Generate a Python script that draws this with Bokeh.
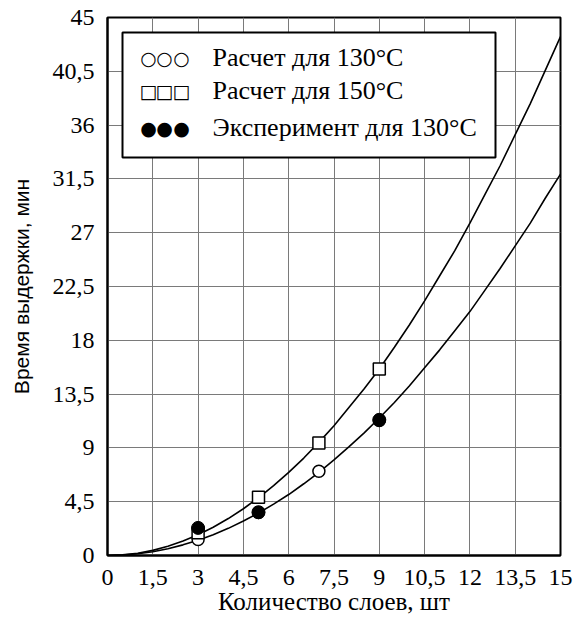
from bokeh.plotting import figure
from bokeh.models import Range1d, FixedTicker, Label, BoxAnnotation
from bokeh.embed import file_html
from bokeh.resources import INLINE

# ---- data ----
curve_x = [0, 0.5, 1, 1.5, 2, 2.5, 3, 3.5, 4, 4.5, 5, 5.5, 6, 6.5, 7, 7.5, 8, 8.5, 9, 9.5,
           10, 10.5, 11, 11.5, 12, 12.5, 13, 13.5, 14, 14.5, 15]
curve_130 = [0, 0.04, 0.14, 0.32, 0.57, 0.89, 1.28, 1.74, 2.27, 2.88, 3.55, 4.30, 5.1, 6.0,
             6.96, 7.99, 9.1, 10.26, 11.5, 12.8, 14.2, 15.7, 17.2, 18.8, 20.4, 22.2, 24.0,
             25.9, 27.8, 29.9, 31.9]
curve_150 = [0, 0.05, 0.19, 0.43, 0.77, 1.21, 1.74, 2.36, 3.09, 3.91, 4.83, 5.84, 6.95, 8.15,
             9.46, 10.86, 12.4, 13.94, 15.6, 17.42, 19.3, 21.3, 23.4, 25.5, 27.8, 30.2, 32.6,
             35.2, 37.8, 40.6, 43.4]

calc130_x = [3, 5, 7, 9]
calc130_y = [1.34, 3.6, 7.05, 11.3]
calc150_x = [3, 5, 7, 9]
calc150_y = [1.9, 4.87, 9.42, 15.6]
exp130_x = [3, 5, 9]
exp130_y = [2.31, 3.62, 11.35]

x_ticks = [0, 1.5, 3, 4.5, 6, 7.5, 9, 10.5, 12, 13.5, 15]
x_tick_labels = ["0", "1,5", "3", "4,5", "6", "7,5", "9", "10,5", "12", "13,5", "15"]
y_ticks = [0, 4.5, 9, 13.5, 18, 22.5, 27, 31.5, 36, 40.5, 45]
y_tick_labels = ["0", "4,5", "9", "13,5", "18", "22,5", "27", "31,5", "36", "40,5", "45"]

legend_labels = ["Расчет для 130°C", "Расчет для 150°C", "Эксперимент для 130°C"]
legend_symbols = ["○", "□", "●"]

x_title = "Количество слоев, шт"
y_title = "Время выдержки, мин"

SERIF = "Liberation Serif"
SANS = "Liberation Sans"

p = figure(width=576, height=624, output_backend="svg", toolbar_location=None,
           x_range=Range1d(0, 15), y_range=Range1d(0, 45),
           min_border_left=107, min_border_right=16, min_border_top=17, min_border_bottom=69)
p.outline_line_color = "black"
p.outline_line_width = 2
p.background_fill_color = "white"
p.border_fill_color = "white"

for ax in (p.xaxis[0], p.yaxis[0]):
    ax.axis_line_color = "black"
    ax.axis_line_width = 2
    ax.major_tick_out = 0
    ax.major_tick_in = 0
    ax.minor_tick_out = 0
    ax.minor_tick_in = 0
    ax.major_label_text_font = SERIF
    ax.major_label_text_font_size = "24px"
    ax.major_label_text_color = "black"
    ax.axis_label_text_font_style = "normal"
    ax.axis_label_text_color = "black"

p.xaxis.axis_label_text_font = SERIF
p.xaxis.axis_label_text_font_size = "25px"
p.yaxis.axis_label_text_font = SANS
p.yaxis.axis_label_text_font_size = "21px"

p.xaxis.ticker = FixedTicker(ticks=x_ticks)
p.yaxis.ticker = FixedTicker(ticks=y_ticks)
p.xaxis.major_label_overrides = dict(zip(x_ticks, x_tick_labels))
p.yaxis.major_label_overrides = dict(zip(y_ticks, y_tick_labels))
p.xaxis.major_label_standoff = 14
p.yaxis.major_label_standoff = 13
p.xaxis.axis_label = x_title
p.yaxis.axis_label = y_title
p.xaxis.axis_label_standoff = 0
p.yaxis.axis_label_standoff = 17

p.xgrid.ticker = FixedTicker(ticks=x_ticks)
p.ygrid.ticker = FixedTicker(ticks=y_ticks)
for g in (p.xgrid[0], p.ygrid[0]):
    g.grid_line_color = "#7a7a7a"
    g.grid_line_width = 1

p.line(curve_x, curve_130, line_color="black", line_width=1.6)
p.line(curve_x, curve_150, line_color="black", line_width=1.6)

p.scatter(calc130_x, calc130_y, marker="circle", size=12, fill_color="white",
          line_color="black", line_width=1.5)
p.scatter(calc150_x, calc150_y, marker="square", size=12, fill_color="white",
          line_color="black", line_width=1.5)
p.scatter(exp130_x, exp130_y, marker="circle", size=13, fill_color="black",
          line_color="black", line_width=1)

# ---- legend box (screen units relative to the frame) ----
p.add_layout(BoxAnnotation(left=15, right=388, bottom=398, top=523,
                           left_units="screen", right_units="screen",
                           bottom_units="screen", top_units="screen",
                           fill_color="white", fill_alpha=1.0,
                           line_color="black", line_width=2, line_alpha=1.0))
rows_y = [498, 465, 428]
for lab, sym, yy in zip(legend_labels, legend_symbols, rows_y):
    for xx in (41, 57, 74):
        p.add_layout(Label(x=xx, y=yy, x_units="screen", y_units="screen", text=sym,
                           text_font="DejaVu Sans", text_font_size="19px",
                           text_align="center", text_baseline="middle", text_color="black"))
    p.add_layout(Label(x=105, y=yy, x_units="screen", y_units="screen", text=lab,
                       text_font=SERIF, text_font_size="26px",
                       text_align="left", text_baseline="middle", text_color="black"))

open("out.html", "w").write(file_html(p, INLINE))
